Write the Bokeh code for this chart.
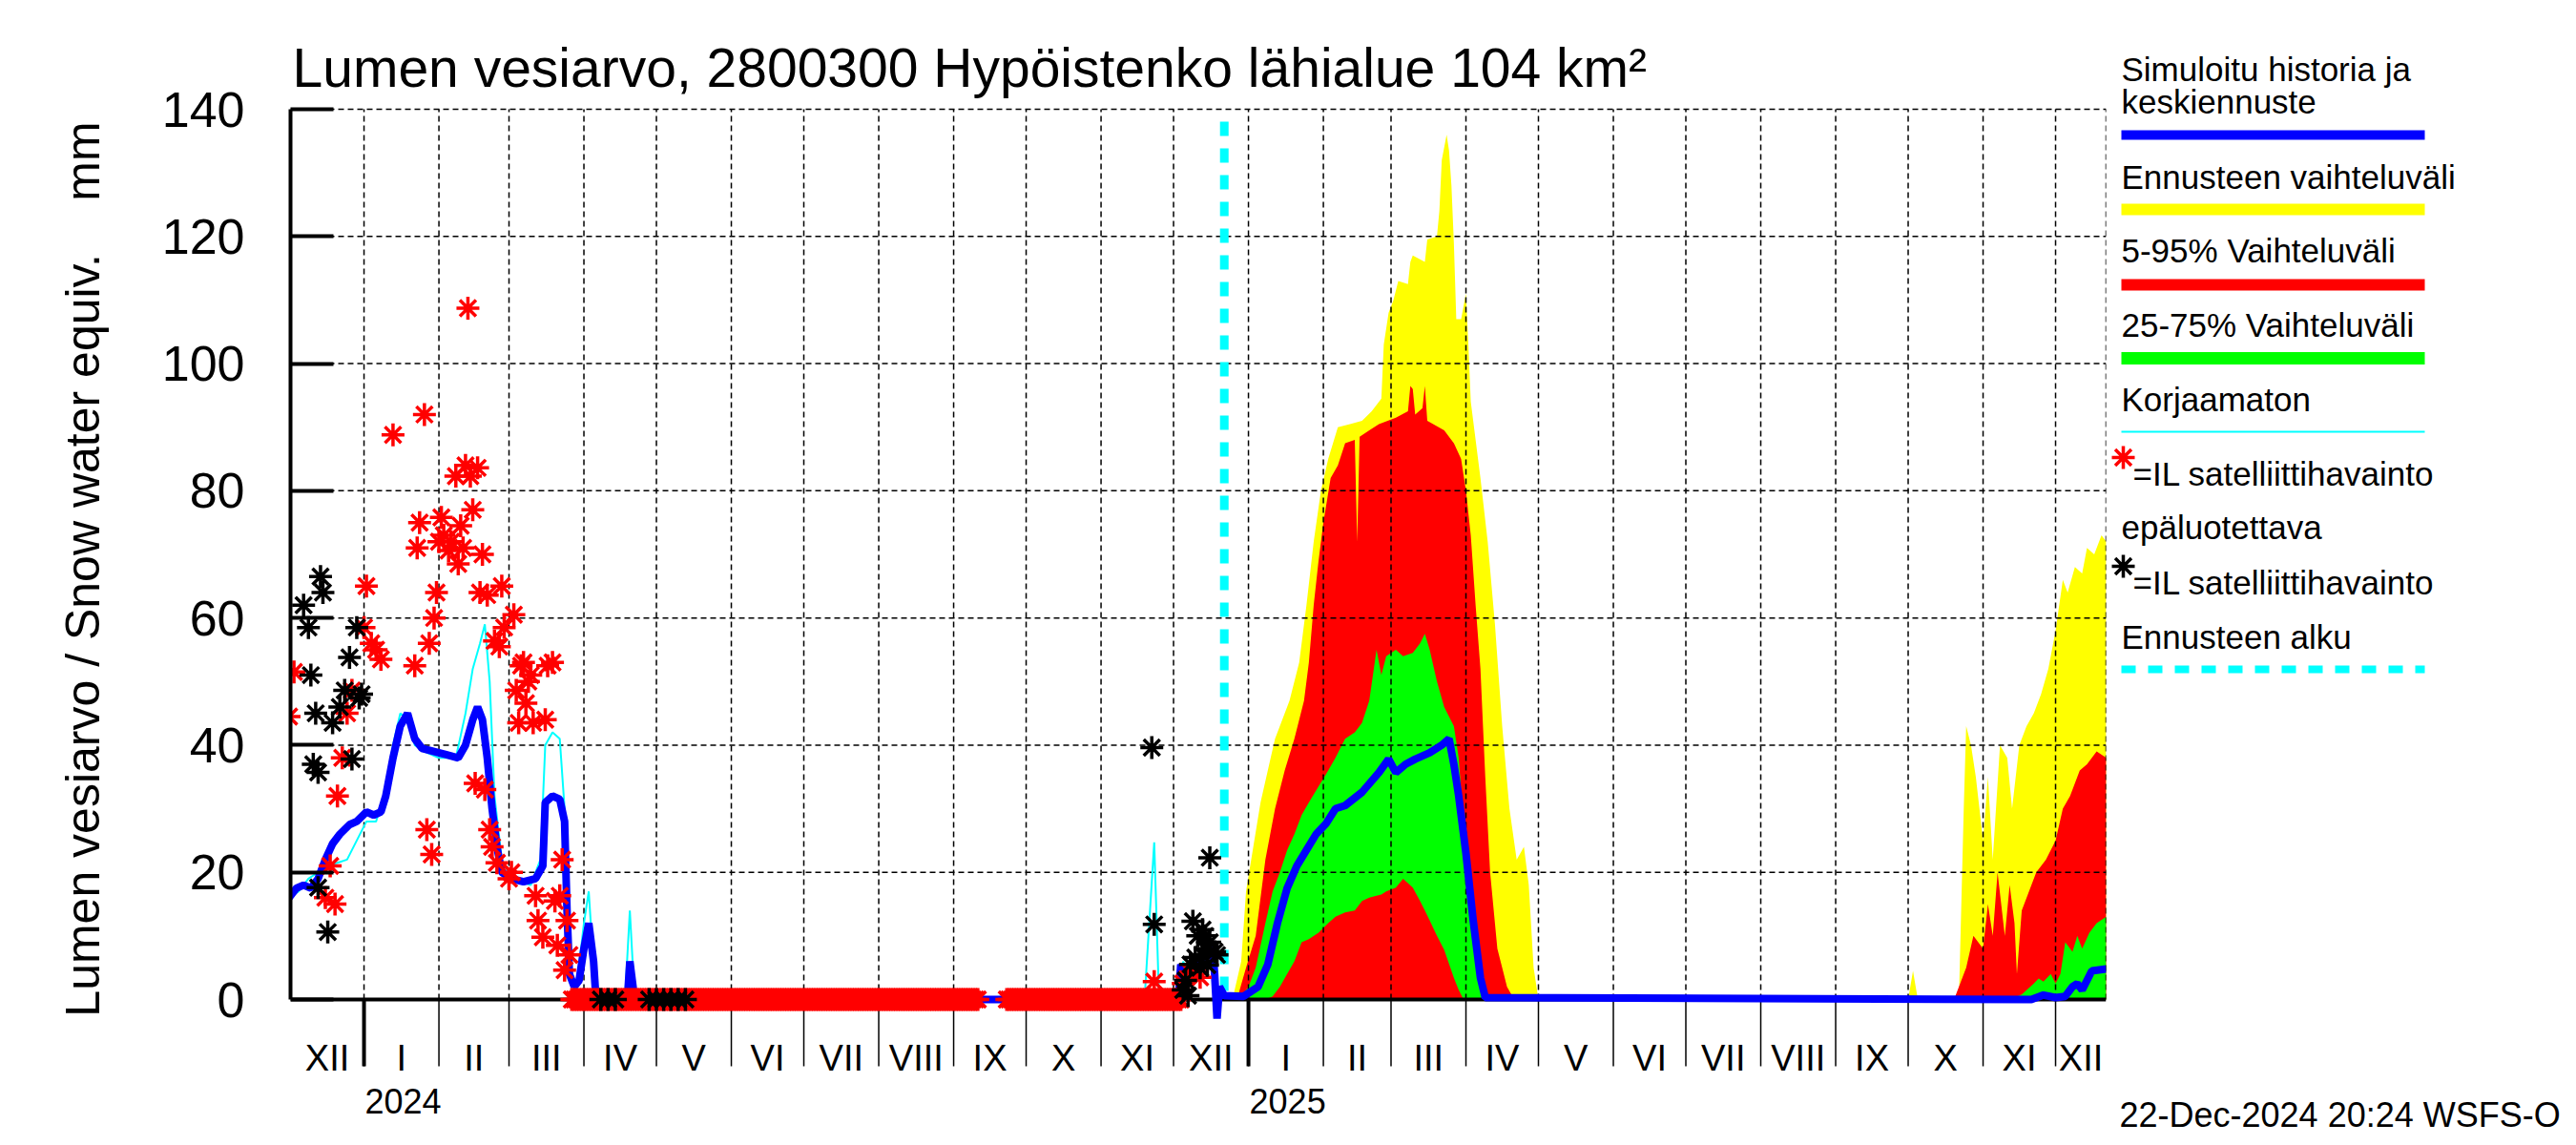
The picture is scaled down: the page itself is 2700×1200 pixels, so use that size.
import pandas as pd
from bokeh.plotting import figure
from bokeh.models import Range1d, FixedTicker
from bokeh.core.properties import value
from bokeh.layouts import row
from bokeh.embed import file_html
from bokeh.resources import INLINE

FONT = "Liberation Sans"

# ---------------- data ----------------
X_START = "2023-12-01 14:00"
X_END = "2025-12-21 22:00"
FORECAST_START = "2024-12-22"

MONTH_LABELS = ["XII", "I", "II", "III", "IV", "V", "VI", "VII", "VIII", "IX", "X", "XI",
                "XII", "I", "II", "III", "IV", "V", "VI", "VII", "VIII", "IX", "X", "XI", "XII"]
YEAR_STARTS = ["2024-01-01", "2025-01-01"]
YEAR_LABELS = ["2024", "2025"]
Y_TICKS = [0, 20, 40, 60, 80, 100, 120, 140]

# simulated history + median forecast (blue)
BLUE_DATES = ["2023-12-01", "2023-12-04", "2023-12-07", "2023-12-10", "2023-12-13", "2023-12-16",
              "2023-12-19", "2023-12-22", "2023-12-26", "2023-12-29", "2024-01-02", "2024-01-05",
              "2024-01-08", "2024-01-10", "2024-01-13", "2024-01-16", "2024-01-19", "2024-01-22",
              "2024-01-25", "2024-01-30", "2024-02-04", "2024-02-09", "2024-02-12", "2024-02-15",
              "2024-02-17", "2024-02-19", "2024-02-21", "2024-02-23", "2024-02-25", "2024-02-27",
              "2024-03-02", "2024-03-07", "2024-03-12", "2024-03-15", "2024-03-16", "2024-03-19",
              "2024-03-22", "2024-03-24", "2024-03-25", "2024-03-26", "2024-03-28", "2024-03-30",
              "2024-04-01", "2024-04-03", "2024-04-05", "2024-04-06", "2024-04-19", "2024-04-20",
              "2024-04-22", "2024-12-03", "2024-12-04", "2024-12-07", "2024-12-11", "2024-12-15",
              "2024-12-17", "2024-12-18", "2024-12-19", "2024-12-20", "2024-12-22", "2024-12-30",
              "2025-01-01", "2025-01-05", "2025-01-09", "2025-01-13", "2025-01-17", "2025-01-21",
              "2025-01-25", "2025-01-29", "2025-02-02", "2025-02-06", "2025-02-10", "2025-02-17",
              "2025-02-24", "2025-02-28", "2025-03-03", "2025-03-07", "2025-03-11", "2025-03-17",
              "2025-03-22", "2025-03-25", "2025-03-27", "2025-03-29", "2025-04-01", "2025-04-04",
              "2025-04-07", "2025-04-09", "2025-11-21", "2025-11-26", "2025-12-01", "2025-12-05",
              "2025-12-08", "2025-12-10", "2025-12-12", "2025-12-14", "2025-12-16", "2025-12-22"]
BLUE_VALUES = [16, 17.5, 18, 17.5, 19, 22,
               24.5, 26, 27.5, 28, 29.5, 29,
               29.5, 32, 38, 43, 45, 41,
               39.5, 39, 38.5, 38, 40, 44,
               46, 44, 38, 30, 24, 20,
               19, 18.5, 19, 21, 31, 32,
               31.5, 28, 14, 4, 2, 3,
               8, 12, 6, 0, 0, 6,
               0, 0, 5.5, 3, 5, 8,
               9, 4, -3, 2, 0.6, 0.5,
               1, 2, 5.5, 12, 17.5, 21,
               23.5, 26, 27.6, 30, 30.5, 32.6,
               35.7, 37.8, 35.7, 37, 37.8, 38.8,
               40, 41, 37, 32, 23, 12.4,
               3.4, 0.3, 0, 0.7, 0.3, 0.5,
               2, 2.5, 1.5, 3, 4.5, 4.8]

# uncorrected simulation (thin cyan)
CYAN_DATES = ["2023-12-01", "2023-12-05", "2023-12-09", "2023-12-13", "2023-12-17", "2023-12-21",
              "2023-12-25", "2023-12-29", "2024-01-02", "2024-01-06", "2024-01-10", "2024-01-13",
              "2024-01-16", "2024-01-19", "2024-01-22", "2024-01-26", "2024-02-01", "2024-02-08",
              "2024-02-12", "2024-02-15", "2024-02-18", "2024-02-20", "2024-02-22", "2024-02-24",
              "2024-02-27", "2024-03-02", "2024-03-10", "2024-03-14", "2024-03-16", "2024-03-19",
              "2024-03-22", "2024-03-24", "2024-03-26", "2024-03-29", "2024-04-01", "2024-04-03",
              "2024-04-05", "2024-04-06", "2024-04-18", "2024-04-20", "2024-04-22", "2024-11-19",
              "2024-11-23", "2024-11-25", "2024-12-03", "2024-12-05", "2024-12-08", "2024-12-11",
              "2024-12-15", "2024-12-17", "2024-12-18", "2024-12-19", "2024-12-20", "2024-12-22"]
CYAN_VALUES = [16, 17, 19, 20, 21, 21.5,
               22, 25, 28, 28, 33, 40,
               45, 44, 40, 39, 38, 38,
               45, 52, 56, 59, 50, 32,
               22, 19, 18, 22, 40, 42,
               41, 30, 5, 2, 12, 17,
               5, 0, 0, 14, 0, 0,
               24.7, 0, 0, 6, 3, 5,
               8, 9, 5, -1, 2, 0.5]

# forecast range min-max (yellow)
YEL_DATES = ["2024-12-22", "2024-12-26", "2024-12-29", "2024-12-31", "2025-01-03", "2025-01-06",
             "2025-01-09", "2025-01-12", "2025-01-15", "2025-01-18", "2025-01-20", "2025-01-22",
             "2025-01-25", "2025-01-28", "2025-01-31", "2025-02-03", "2025-02-07", "2025-02-12",
             "2025-02-17", "2025-02-21", "2025-02-25", "2025-02-26", "2025-02-28", "2025-03-02",
             "2025-03-04", "2025-03-08", "2025-03-09", "2025-03-10", "2025-03-15", "2025-03-16",
             "2025-03-20", "2025-03-21", "2025-03-22", "2025-03-24", "2025-03-25", "2025-03-26",
             "2025-03-27", "2025-03-28", "2025-03-30", "2025-04-01", "2025-04-02", "2025-04-03",
             "2025-04-07", "2025-04-10", "2025-04-13", "2025-04-16", "2025-04-19", "2025-04-22",
             "2025-04-25", "2025-04-27", "2025-04-29", "2025-05-01",
             "2025-10-01", "2025-10-03", "2025-10-05", "2025-10-22", "2025-10-24", "2025-10-25",
             "2025-10-27", "2025-10-29", "2025-11-01", "2025-11-03", "2025-11-05", "2025-11-08",
             "2025-11-11", "2025-11-13", "2025-11-16", "2025-11-19", "2025-11-22", "2025-11-25",
             "2025-11-28", "2025-12-01", "2025-12-04", "2025-12-06", "2025-12-09", "2025-12-12",
             "2025-12-14", "2025-12-17", "2025-12-20", "2025-12-22"]
YEL_MAX = [0, 1, 6, 17, 24, 31,
           36, 41, 44, 47, 50, 53,
           62, 72, 80, 85, 90, 90.5,
           91, 92.5, 94.5, 103, 108, 110,
           113, 112.5, 116, 117, 116, 119.5,
           120, 124, 132, 136, 133.5, 128,
           119, 107, 107, 111, 103, 94,
           82, 72, 59, 43, 30, 22,
           24, 18, 5, 0,
           0, 4.5, 0, 0, 30, 43,
           40, 35, 25, 35, 22, 40,
           38, 30, 40, 43, 45, 48,
           52, 58, 66, 64, 68, 67,
           71, 70, 73, 72]

# 5-95 % range (red); the 5 % limit lies at zero
RED_DATES = ["2024-12-22", "2024-12-28", "2024-12-31", "2025-01-04", "2025-01-08", "2025-01-12",
             "2025-01-16", "2025-01-20", "2025-01-24", "2025-01-26", "2025-01-28", "2025-01-30",
             "2025-02-01", "2025-02-04", "2025-02-07", "2025-02-10", "2025-02-14", "2025-02-15",
             "2025-02-16", "2025-02-20", "2025-02-24", "2025-03-03", "2025-03-08", "2025-03-09",
             "2025-03-10", "2025-03-11", "2025-03-14", "2025-03-15", "2025-03-16", "2025-03-23",
             "2025-03-27", "2025-03-30", "2025-04-01", "2025-04-03", "2025-04-05", "2025-04-07",
             "2025-04-09", "2025-04-11", "2025-04-14", "2025-04-18", "2025-04-21",
             "2025-10-20", "2025-10-25", "2025-10-28", "2025-11-01", "2025-11-03", "2025-11-05",
             "2025-11-07", "2025-11-10", "2025-11-12", "2025-11-14", "2025-11-15", "2025-11-17",
             "2025-11-20", "2025-11-23", "2025-11-27", "2025-12-01", "2025-12-04", "2025-12-07",
             "2025-12-11", "2025-12-14", "2025-12-18", "2025-12-22"]
RED_HIGH = [0, 1, 5, 10, 22, 30,
            36, 41, 47, 53, 62, 69,
            75, 82, 84, 87.5, 88, 72,
            88.5, 89.5, 90.5, 91.5, 92.5, 96.5,
            96, 92, 93, 96.5, 91, 89.5,
            87.5, 85, 80, 73, 62, 52,
            35, 20, 8, 2, 0,
            0, 5, 10, 8, 15, 10,
            20, 10, 18, 12, 4, 14,
            17, 20, 22, 25, 30, 32,
            36, 37, 39, 38]

# 25-75 % range (green)
GREEN_DATES = ["2024-12-28", "2025-01-01", "2025-01-04", "2025-01-08", "2025-01-11", "2025-01-14",
               "2025-01-17", "2025-01-20", "2025-01-23", "2025-01-26", "2025-01-30", "2025-02-03",
               "2025-02-06", "2025-02-10", "2025-02-14", "2025-02-17", "2025-02-20", "2025-02-23",
               "2025-02-25", "2025-02-27", "2025-03-03", "2025-03-06", "2025-03-10", "2025-03-13",
               "2025-03-15", "2025-03-17", "2025-03-20", "2025-03-23", "2025-03-27", "2025-03-29",
               "2025-03-31", "2025-04-03", "2025-04-06", "2025-04-08", "2025-04-10",
               "2025-11-12", "2025-11-17", "2025-11-22", "2025-11-24", "2025-11-26", "2025-11-29",
               "2025-12-01", "2025-12-03", "2025-12-05", "2025-12-08", "2025-12-10", "2025-12-12",
               "2025-12-15", "2025-12-18", "2025-12-22"]
GREEN_LOW = [0, 0, 0, 0, 0.5, 2,
             4, 6, 9, 9.5, 10.5, 12,
             13, 13.7, 14, 15.5, 16, 16.3,
             16.5, 17, 17.6, 19, 17.6, 15.5,
             14, 12.4, 10, 7.8, 3.4, 1.5,
             0, 0, 0, 0, 0,
             0, 0, 0, 0, 0, 0,
             0, 0, 0, 0, 0, 0,
             0, 0, 0]
GREEN_HIGH = [0, 2, 5, 12, 17, 20,
              23.5, 26, 29, 31, 33.5, 36,
              38, 41, 42, 43.5, 47, 55,
              51, 54, 55, 54, 54.5, 56,
              57.5, 55, 50, 46, 43, 38,
              28, 16, 7, 2, 0,
              0, 0.8, 2.5, 3.3, 2.8, 4,
              2.5, 4, 9, 7.5, 10, 8,
              10.5, 12, 13]

# satellite observations (red asterisks)
RED_OBS_DATES = ["2023-12-01", "2023-12-03", "2023-12-16", "2023-12-18", "2023-12-20", "2023-12-21",
                 "2023-12-23", "2023-12-25", "2023-12-27", "2024-01-01", "2024-01-02", "2024-01-04",
                 "2024-01-06", "2024-01-08", "2024-01-13", "2024-01-22", "2024-01-23", "2024-01-24",
                 "2024-01-26", "2024-01-27", "2024-01-28", "2024-01-29", "2024-01-30", "2024-01-31",
                 "2024-02-01", "2024-02-02", "2024-02-03", "2024-02-05", "2024-02-06", "2024-02-08",
                 "2024-02-09", "2024-02-10", "2024-02-11", "2024-02-12", "2024-02-13", "2024-02-14",
                 "2024-02-15", "2024-02-16", "2024-02-17", "2024-02-18", "2024-02-19", "2024-02-20",
                 "2024-02-21", "2024-02-22", "2024-02-23", "2024-02-24", "2024-02-25", "2024-02-26",
                 "2024-02-27", "2024-02-28", "2024-03-01", "2024-03-02", "2024-03-03", "2024-03-04",
                 "2024-03-05", "2024-03-06", "2024-03-07", "2024-03-08", "2024-03-09", "2024-03-10",
                 "2024-03-11", "2024-03-12", "2024-03-13", "2024-03-15", "2024-03-16", "2024-03-17",
                 "2024-03-19", "2024-03-20", "2024-03-21", "2024-03-22", "2024-03-23", "2024-03-24",
                 "2024-03-25", "2024-03-26", "2024-11-23", "2024-12-05", "2024-12-08", "2024-12-12"]
RED_OBS_VALUES = [44.5, 51.5, 16, 21, 15, 32,
                  38, 45, 48.6, 58.5, 65, 56,
                  55, 53.5, 88.8, 52.5, 71, 75,
                  92, 26.7, 56, 22.8, 60, 64,
                  72, 75.8, 73, 70.6, 72, 82.3,
                  68.5, 74.5, 71, 84, 108.7, 82.3,
                  77, 34, 83.6, 64, 70, 33,
                  63.6, 26.7, 24, 56.4, 21.5, 55.5,
                  65, 58.5, 19, 20, 60.5, 48.6,
                  43.5, 52.5, 53, 46.6, 50, 51,
                  43.5, 16.3, 12.4, 9.8, 44, 52.5,
                  53, 15.5, 8.5, 16.3, 22, 4.6,
                  12.4, 7, 2.8, 2.5, 4.3, 3.5]
# periods with a zero observation every day (red asterisks on the axis)
RED_ZERO_PERIODS = [("2024-03-27", "2024-09-11"), ("2024-09-23", "2024-12-04")]

# unreliable satellite observations (black asterisks)
BLACK_OBS_DATES = ["2023-12-07", "2023-12-09", "2023-12-10", "2023-12-11", "2023-12-12", "2023-12-13",
                   "2023-12-13", "2023-12-14", "2023-12-15", "2023-12-17", "2023-12-19", "2023-12-22",
                   "2023-12-24", "2023-12-26", "2023-12-27", "2023-12-29", "2023-12-30", "2023-12-31",
                   "2024-04-08", "2024-04-11", "2024-04-14", "2024-04-28", "2024-05-01", "2024-05-04",
                   "2024-05-07", "2024-05-10", "2024-05-13",
                   "2024-11-22", "2024-11-23", "2024-12-05", "2024-12-06", "2024-12-07", "2024-12-08",
                   "2024-12-09", "2024-12-10", "2024-12-11", "2024-12-12", "2024-12-13", "2024-12-13",
                   "2024-12-14", "2024-12-14", "2024-12-15", "2024-12-16", "2024-12-16", "2024-12-18",
                   "2024-12-19"]
BLACK_OBS_VALUES = [62, 58.5, 51, 37, 45, 35.7,
                    17.6, 66.5, 64, 10.6, 43.5, 46,
                    48.6, 53.8, 37.8, 58.5, 47.4, 48,
                    0, 0, 0, 0, 0, 0,
                    0, 0, 0,
                    39.6, 11.8, 1.5, 3, 0.6, 5.5,
                    12.3, 6.6, 10, 5, 11, 7,
                    10, 8, 5.4, 22.3, 9, 7.5,
                    7]

TITLE = "Lumen vesiarvo, 2800300 Hypöistenko lähialue 104 km²"
Y_LABEL = "Lumen vesiarvo / Snow water equiv. \u00a0\u00a0\u00a0mm"
LEGEND_TEXTS = ["Simuloitu historia ja", "keskiennuste", "Ennusteen vaihteluväli",
                "5-95% Vaihteluväli", "25-75% Vaihteluväli", "Korjaamaton",
                "=IL satelliittihavainto", "epäluotettava", "=IL satelliittihavainto",
                "Ennusteen alku"]
STAMP = "22-Dec-2024 20:24 WSFS-O"

# ---------------- helpers / geometry ----------------
DAY = 86400000
FIG_H = 1192


def ms(t):
    return int(pd.Timestamp(t).value // 10**6)


def dt(lst):
    return pd.to_datetime(lst)


x0, x1 = ms(X_START), ms(X_END)
PX_PER_UNIT = 933 / 140.0            # value 140 at y 114 px, value 0 at y 1047 px
Y_TOP = 140 + 114 / PX_PER_UNIT
Y_BOT = -(FIG_H - 1047) / PX_PER_UNIT
TICK_DOWN = -70 / PX_PER_UNIT
MONTH_Y = -61 / PX_PER_UNIT
YEAR_Y = -106 / PX_PER_UNIT
TITLE_Y = 140 + 44 / PX_PER_UNIT

month_starts = pd.date_range("2023-12-01", "2026-01-01", freq="MS")
bounds = [ms(t) for t in month_starts]
inner_bounds = [b for b in bounds if x0 < b < x1]
mids = []
for a, b in zip(bounds[:-1], bounds[1:]):
    a2, b2 = max(a, x0), min(b, x1)
    mids.append((a2 + b2) / 2)
year_ms = [ms(y) for y in YEAR_STARTS]

# ---------------- main figure ----------------
p = figure(width=2211, height=FIG_H, x_range=Range1d(x0, x1), y_range=Range1d(Y_BOT, Y_TOP),
           output_backend="svg", toolbar_location=None, title=None, x_axis_location=None,
           min_border_left=304, min_border_right=4, min_border_top=0, min_border_bottom=0)
p.background_fill_color = "white"
p.border_fill_color = "white"
p.outline_line_color = None
p.grid.visible = False

# y axis
ya = p.yaxis[0]
ya.bounds = (0, 140)
ya.ticker = FixedTicker(ticks=Y_TICKS)
ya.axis_line_width = 4
ya.axis_line_color = "black"
ya.major_tick_in = 45
ya.major_tick_out = 0
ya.major_tick_line_width = 4
ya.major_tick_line_color = "black"
ya.minor_tick_line_color = None
ya.major_label_text_font = FONT
ya.major_label_text_font_size = "52px"
ya.major_label_text_color = "black"
ya.major_label_standoff = 48
ya.axis_label = Y_LABEL
ya.axis_label_text_font = FONT
ya.axis_label_text_font_size = "50px"
ya.axis_label_text_font_style = "normal"
ya.axis_label_text_color = "black"
ya.axis_label_standoff = 52

# forecast bands
p.varea(x=dt(YEL_DATES), y1=0, y2=YEL_MAX, fill_color="#FFFF00", level="image")
p.varea(x=dt(RED_DATES), y1=0, y2=RED_HIGH, fill_color="#FF0000", level="image")
p.varea(x=dt(GREEN_DATES), y1=GREEN_LOW, y2=GREEN_HIGH, fill_color="#00FF00", level="image")

# dashed grid (on top of the bands)
grid_kw = dict(line_color="black", line_width=1.5, line_dash="6 4", level="underlay")
p.segment(x0=inner_bounds, y0=0, x1=inner_bounds, y1=140, **grid_kw)
p.segment(x0=x0, y0=Y_TICKS[1:], x1=x1, y1=Y_TICKS[1:], **grid_kw)
p.segment(x0=[x1], y0=[0], x1=[x1], y1=[140], **grid_kw)

# x axis line, month ticks, year ticks, labels
p.segment(x0=[x0], y0=[0], x1=[x1], y1=[0], line_color="black", line_width=4, level="underlay")
p.segment(x0=inner_bounds, y0=0, x1=inner_bounds, y1=TICK_DOWN, line_color="black",
          line_width=1.5, level="underlay")
p.segment(x0=year_ms, y0=0, x1=year_ms, y1=TICK_DOWN, line_color="black", line_width=4,
          level="underlay")
p.text(x=mids, y=MONTH_Y, text=MONTH_LABELS, text_font=value(FONT), text_font_size="38px",
       text_align="center", text_baseline="middle")
p.text(x=[y + 0.4 * DAY for y in year_ms], y=YEAR_Y, text=YEAR_LABELS, text_font=value(FONT),
       text_font_size="36px", text_align="left", text_baseline="middle")
p.text(x=[x0 + 0.8 * DAY], y=[TITLE_Y], text=[TITLE], text_font=value(FONT),
       text_font_size="57px", text_align="left", text_baseline="alphabetic")

# lines
p.line(dt(CYAN_DATES), CYAN_VALUES, line_color="#00FFFF", line_width=2)
fs = ms(FORECAST_START)
p.segment(x0=[fs], y0=[140], x1=[fs], y1=[0], line_color="#00FFFF", line_width=9,
          line_dash="15 13", line_dash_offset=15)
p.line(dt(BLUE_DATES), BLUE_VALUES, line_color="#0000FF", line_width=8)

# observations
zero_days = []
for a, b in RED_ZERO_PERIODS:
    zero_days.extend(pd.date_range(a, b, freq="D"))
red_x = list(dt(RED_OBS_DATES)) + zero_days
red_y = list(RED_OBS_VALUES) + [0] * len(zero_days)
p.scatter(red_x, red_y, marker="asterisk", size=24, line_color="#FF0000", line_width=3.5)
p.scatter(dt(BLACK_OBS_DATES), BLACK_OBS_VALUES, marker="asterisk", size=24, line_color="black",
          line_width=3.5)

# ---------------- legend figure (page x = 2211 + fx, page y = fy) ----------------
lg = figure(width=481, height=FIG_H, x_range=Range1d(0, 481), y_range=Range1d(FIG_H, 0),
            output_backend="svg", toolbar_location=None, title=None, min_border=0,
            x_axis_location=None, y_axis_location=None)
lg.grid.visible = False
lg.outline_line_color = None
lg.background_fill_color = "white"
lg.border_fill_color = "white"

leg_x = [12, 12, 12, 12, 12, 12, 24, 12, 24, 12]
leg_y = [72, 106, 185, 262, 340, 418, 496, 552, 610, 667]
lg.text(leg_x, leg_y, text=LEGEND_TEXTS, text_font=value(FONT), text_font_size="35px",
        text_baseline="middle", text_align="left")
lg.line([12, 330], [141, 141], line_color="#0000FF", line_width=10)
lg.line([12, 330], [219, 219], line_color="#FFFF00", line_width=12)
lg.line([12, 330], [298, 298], line_color="#FF0000", line_width=12)
lg.line([12, 330], [375, 375], line_color="#00FF00", line_width=13)
lg.line([12, 330], [452, 452], line_color="#00FFFF", line_width=2)
lg.line([12, 330], [701, 701], line_color="#00FFFF", line_width=8, line_dash="15 13")
lg.scatter([14], [479], marker="asterisk", size=24, line_color="#FF0000", line_width=3.5)
lg.scatter([14], [593], marker="asterisk", size=24, line_color="black", line_width=3.5)
lg.text([10], [1168], text=[STAMP], text_font=value(FONT), text_font_size="36px",
        text_baseline="middle", text_align="left")

layout = row(p, lg)
open("out.html", "w").write(file_html(layout, INLINE))
